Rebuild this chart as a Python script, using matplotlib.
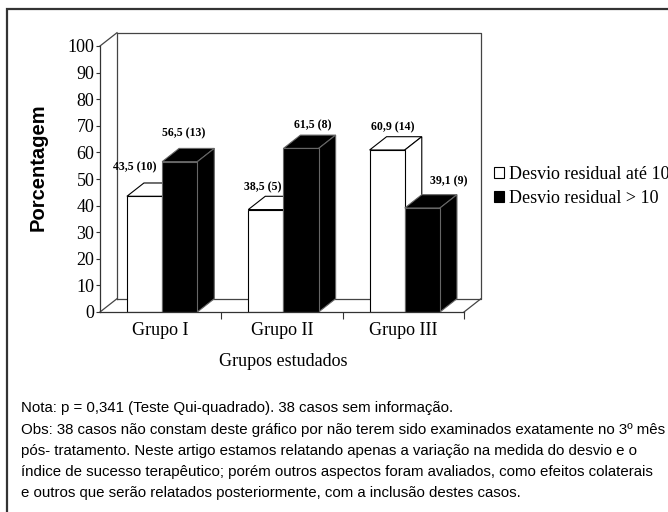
import matplotlib
matplotlib.use('Agg')
import matplotlib.pyplot as plt
from matplotlib.patches import Polygon, Rectangle, Patch
from matplotlib import font_manager

# dados do grafico
grupos = ['Grupo I', 'Grupo II', 'Grupo III']
ate10 = [43.5, 38.5, 60.9]
ate10_n = [10, 5, 14]
acima10 = [56.5, 61.5, 39.1]
acima10_n = [13, 8, 9]
series_nomes = ['Desvio residual até 10', 'Desvio residual > 10']
yticks = list(range(0, 101, 10))

nota_linhas = [
    'Nota: p = 0,341 (Teste Qui-quadrado). 38 casos sem informação.',
    'Obs: 38 casos não constam deste gráfico por não terem sido examinados exatamente no 3º mês',
    'pós- tratamento. Neste artigo estamos relatando apenas a variação na medida do desvio e o',
    'índice de sucesso terapêutico; porém outros aspectos foram avaliados, como efeitos colaterais',
    'e outros que serão relatados posteriormente, com a inclusão destes casos.',
]

# estilo / geometria
W, H = 668, 512
SERIF = 'Liberation Serif'
nomes = {f.name for f in font_manager.fontManager.ttflist}
NOTA_FONTE = 'Liberation Sans Narrow' if 'Liberation Sans Narrow' in nomes else 'Liberation Sans'
DX, DY = 0.14, 5.0          # profundidade do efeito 3D (unidades de dados)
BAR_W = 0.29
OFF_BRANCO, OFF_PRETO = 0.222, 0.512
PAREDE = '#444444'
# deslocamento dos rotulos (pixels) relativo ao topo frontal da barra
off_ate10 = [(-10, 29), (-3, 22), (6, 23)]
off_acima10 = [(4, 28), (12, 23), (26, 27)]

fig = plt.figure(figsize=(W / 100, H / 100), dpi=100, facecolor='white')
ax = fig.add_axes([100 / W, (H - 312) / H, 364 / W, 266 / H])
ax.set_xlim(0, 3)
ax.set_ylim(0, 100)
ax.set_facecolor('none')

# parede do fundo e piso
n = len(grupos)
ax.plot([DX, n + DX, n + DX, DX, DX], [DY, DY, 100 + DY, 100 + DY, DY],
        color=PAREDE, lw=0.9, clip_on=False, zorder=1)
ax.plot([0, DX], [100, 100 + DY], color=PAREDE, lw=0.9, clip_on=False, zorder=1)
ax.plot([0, DX], [0, DY], color=PAREDE, lw=0.9, clip_on=False, zorder=1)
ax.plot([n, n + DX], [0, DY], color=PAREDE, lw=0.9, clip_on=False, zorder=1)


def barra3d(x0, h, cor, borda, z):
    x1 = x0 + BAR_W
    ax.bar(x0, h, width=BAR_W, align='edge', color=cor, edgecolor=borda,
           linewidth=0.8, zorder=z + 0.2)
    topo = Polygon([(x0, h), (x0 + DX, h + DY), (x1 + DX, h + DY), (x1, h)],
                   closed=True, fc=cor, ec=borda, lw=0.8, zorder=z, clip_on=False)
    lado = Polygon([(x1, 0), (x1 + DX, DY), (x1 + DX, h + DY), (x1, h)],
                   closed=True, fc=cor, ec=borda, lw=0.8, zorder=z, clip_on=False)
    ax.add_patch(topo)
    ax.add_patch(lado)


def rotulo(x, h, v, cnt, off):
    txt = f'{v:.1f}'.replace('.', ',') + f' ({cnt})'
    ax.annotate(txt, (x + BAR_W / 2, h), xytext=off, textcoords='offset pixels',
                ha='center', va='center', fontsize=8.5, fontweight='bold',
                family=SERIF, zorder=20, annotation_clip=False)


z = 2
for i in range(n):
    xb = i + OFF_BRANCO
    xp = i + OFF_PRETO
    barra3d(xb, ate10[i], 'white', 'black', z)
    z += 1
    barra3d(xp, acima10[i], 'black', '#666666', z)
    z += 1
    rotulo(xb, ate10[i], ate10[i], ate10_n[i], off_ate10[i])
    rotulo(xp, acima10[i], acima10[i], acima10_n[i], off_acima10[i])

# eixos
for s in ['top', 'right']:
    ax.spines[s].set_visible(False)
for s in ['left', 'bottom']:
    ax.spines[s].set_color('#333333')
    ax.spines[s].set_linewidth(0.9)
    ax.spines[s].set_zorder(15)

ax.set_yticks(yticks)
ax.set_yticklabels([str(t) for t in yticks], family=SERIF, fontsize=13)
ax.tick_params(axis='y', direction='out', length=3, width=0.8, color='#333333', pad=1)

ax.set_xticks([1, 2, 3])
ax.set_xticks([i + 0.5 for i in range(n)], minor=True)
ax.set_xticklabels(grupos, minor=True, family=SERIF, fontsize=13)
ax.tick_params(axis='x', which='major', direction='out', length=5, width=0.8,
               color='#333333', labelbottom=False)
ax.tick_params(axis='x', which='minor', length=0, pad=7)

fig.text(38 / W, 1 - 167 / H, 'Porcentagem', rotation=90, fontsize=14.5,
         fontweight='bold', family='Liberation Sans', ha='center', va='center')
fig.text(283 / W, 1 - 362 / H, 'Grupos estudados', family=SERIF, fontsize=13,
         ha='center', va='center')

handles = [Patch(fc='white', ec='black', lw=0.8), Patch(fc='black', ec='black', lw=0.8)]
fig.legend(handles, series_nomes, loc='upper left',
           bbox_to_anchor=(494 / W, 1 - 166 / H), frameon=False,
           prop={'family': SERIF, 'size': 13}, handlelength=0.55, handleheight=0.55,
           handletextpad=0.3, labelspacing=0.38, borderpad=0, borderaxespad=0)

# moldura externa (apenas esquerda e topo visiveis)
fig.add_artist(Rectangle((7 / W, -0.05), 1.2, 1 - 9 / H + 0.05, transform=fig.transFigure,
                         fill=False, ec='#333333', lw=1.6, clip_on=False))

# notas: ajusta o tamanho da fonte para a largura da linha "Obs"
nota_y = [408, 430, 451, 472, 493]
teste = fig.text(0, 0, nota_linhas[1], family=NOTA_FONTE, fontsize=10)
fig.canvas.draw()
larg = teste.get_window_extent().width
teste.remove()
tam = 10 * 645 / larg
for linha, y in zip(nota_linhas, nota_y):
    fig.text(21 / W, 1 - y / H, linha, family=NOTA_FONTE, fontsize=tam,
             ha='left', va='center')

fig.savefig('out.png', dpi=100, facecolor='white')
